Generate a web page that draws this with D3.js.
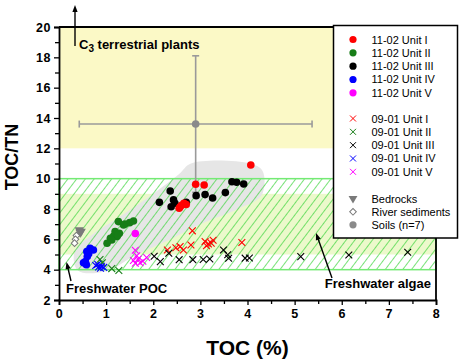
<!DOCTYPE html>
<html>
<head>
<meta charset="utf-8">
<script src="https://cdn.jsdelivr.net/npm/d3@7"></script>
<style>
  body { margin: 0; background: #fff; }
  svg { display: block; font-family: Arial, "Liberation Sans", sans-serif; }
</style>
</head>
<body>
<svg id="chart" width="459" height="363"></svg>
<script>
// 11-02 core (filled circles)
var cirUnitI = [[4.07,10.9],[2.90,9.63],[3.08,9.58],[2.57,8.15],[2.65,8.38],[2.60,8.25],[2.70,8.30],[2.55,8.05]];
var cirUnitII = [[1.26,7.17],[1.40,7.01],[1.50,7.10],[1.58,7.21],[1.37,6.95],[1.19,6.51],[1.28,6.40],[1.23,6.18],
                 [1.16,6.22],[1.09,6.07],[1.12,5.96],[1.02,5.74],[1.25,6.30]];
var cirUnitIII = [[2.36,9.19],[2.13,8.44],[2.43,8.60],[2.46,8.38],[2.38,8.15],[2.70,8.44],[2.91,8.88],[3.10,8.95],
                  [3.26,8.73],[3.53,9.08],[3.67,9.80],[3.77,9.76],[3.92,9.65]];
var cirUnitIV = [[0.66,5.41],[0.73,5.30],[0.59,5.20],[0.63,5.05],[0.60,4.86],[0.56,4.53],[0.58,4.33],[0.52,4.46]];
var cirUnitV = [[1.62,6.38]];

// 09-01 core (crosses)
var crUnitI = [[2.83,6.56],[2.30,5.30],[2.57,5.52],[2.64,5.30],[2.80,5.63],[3.10,5.85],[3.17,5.70],[3.27,5.94],
               [3.13,5.58],[3.23,5.75],[3.88,5.79],[2.48,5.45]];
var crUnitII = [[0.87,4.67],[0.92,4.45],[1.12,4.07],[1.27,3.95]];
var crUnitIII = [[2.02,4.88],[2.15,4.53],[2.33,5.08],[2.55,4.66],[2.84,4.66],[3.06,4.67],[3.20,4.70],[3.49,5.30],
                 [3.58,4.98],[3.60,4.75],[3.95,4.76],[4.04,4.77],[5.13,4.86],[6.15,4.97],[7.40,5.15]];
var crUnitIV = [[0.78,4.28],[0.84,4.18],[0.90,4.22],[0.95,4.15],[0.82,4.35],[0.88,4.10]];
var crUnitV = [[1.62,5.28],[1.65,4.92],[1.58,4.60],[1.72,4.46],[1.62,4.42],[1.86,4.80],[1.78,4.55],[1.68,4.70]];

// end members
var bedrocks = [[0.43,6.62],[0.47,6.52],[0.45,6.45]];
var riverSed = [[0.37,6.25],[0.35,6.00],[0.33,5.75]];
var soils = [2.9, 13.6];
var soilsXerr = [0.43, 5.37];
var soilsYerr = [9.1, 18.1];

// gray envelope around core samples
var envelope = [[0.40,3.95],[1.00,3.90],[1.60,4.90],[2.30,5.90],[3.00,7.00],[3.80,8.00],[4.30,8.90],[4.32,10.5],
                [4.05,11.0],[2.80,11.0],[2.55,10.3],[2.00,9.0],[1.30,7.5],[0.70,6.3],[0.33,5.2]];

var xTicks = [0,1,2,3,4,5,6,7,8];
var yTicks = [2,4,6,8,10,12,14,16,18,20];

var legendCircles = [["11-02 Unit I","#ff0000"],["11-02 Unit II","#177d17"],["11-02 Unit III","#000000"],
                     ["11-02 Unit IV","#0000ff"],["11-02 Unit V","#ff00ff"]];
var legendCrosses = [["09-01 Unit I","#ff0000"],["09-01 Unit II","#177d17"],["09-01 Unit III","#000000"],
                     ["09-01 Unit IV","#0000ff"],["09-01 Unit V","#ff00ff"]];

var margin = { top: 27, right: 23, bottom: 63, left: 59 },
    width = 459 - margin.left - margin.right,
    height = 363 - margin.top - margin.bottom;

var svg = d3.select("#chart");

var defs = svg.append("defs");
defs.append("pattern")
  .attr("id", "hatch")
  .attr("patternUnits", "userSpaceOnUse")
  .attr("width", 7).attr("height", 7)
  .attr("patternTransform", "rotate(37)")
  .append("line")
  .attr("x1", 0).attr("y1", -1).attr("x2", 0).attr("y2", 8)
  .attr("stroke", "#3fd63f").attr("stroke-width", 1.4);

var g = svg.append("g")
  .attr("transform", "translate(" + margin.left + "," + margin.top + ")");

var x = d3.scaleLinear().domain([0, 8]).range([0, width]);
var y = d3.scaleLinear().domain([2, 20]).range([height, 0]);

// C3 plants field
g.append("rect")
  .attr("x", x(0)).attr("y", y(20))
  .attr("width", x(8) - x(0)).attr("height", y(12) - y(20))
  .attr("fill", "#fbf9c6");

// freshwater algae band
g.append("rect")
  .attr("x", x(0)).attr("y", y(9))
  .attr("width", x(8) - x(0)).attr("height", y(5) - y(9))
  .attr("fill", "#ecf9cb");

g.append("path")
  .datum(envelope)
  .attr("d", d3.line().x(d => x(d[0])).y(d => y(d[1])).curve(d3.curveCatmullRomClosed.alpha(0.5)))
  .attr("fill", "#e6e6e6");

g.append("rect")
  .attr("x", x(0)).attr("y", y(10))
  .attr("width", x(8) - x(0)).attr("height", y(4) - y(10))
  .attr("fill", "url(#hatch)")
  .attr("stroke", "#74ea74").attr("stroke-width", 1.5);

// axes
g.append("g")
  .attr("transform", "translate(0," + height + ")")
  .call(d3.axisBottom(x).tickValues(xTicks).tickSize(5).tickPadding(4));
g.append("g")
  .attr("transform", "translate(0," + height + ")")
  .call(d3.axisBottom(x).tickValues(d3.range(0.5, 8, 1)).tickSize(4).tickFormat(""))
  .select(".domain").remove();

g.append("g")
  .call(d3.axisLeft(y).tickValues(yTicks).tickSize(5).tickPadding(3));
g.append("g")
  .call(d3.axisLeft(y).tickValues(d3.range(3, 20, 2)).tickSize(4).tickFormat(""))
  .select(".domain").remove();

g.selectAll(".tick line").attr("stroke", "#000").attr("stroke-width", 1.3);
g.selectAll(".domain").attr("stroke", "#000").attr("stroke-width", 1.8);
g.selectAll(".tick text")
  .attr("font-size", 12.5).attr("font-weight", "bold")
  .attr("font-family", "Arial, 'Liberation Sans', sans-serif")
  .style("letter-spacing", "0.6px");

// top and right frame
g.append("line").attr("x1", 0).attr("x2", width).attr("y1", 0).attr("y2", 0)
  .attr("stroke", "#000").attr("stroke-width", 1.8);
g.append("line").attr("x1", width).attr("x2", width).attr("y1", 0).attr("y2", height)
  .attr("stroke", "#000").attr("stroke-width", 1.8);

// soils error bars
var errColor = "#9a9a9a";
g.append("line")
  .attr("x1", x(soilsXerr[0])).attr("x2", x(soilsXerr[1]))
  .attr("y1", y(soils[1])).attr("y2", y(soils[1]))
  .attr("stroke", errColor).attr("stroke-width", 1.6);
g.append("line")
  .attr("x1", x(soils[0])).attr("x2", x(soils[0]))
  .attr("y1", y(soilsYerr[0])).attr("y2", y(soilsYerr[1]))
  .attr("stroke", errColor).attr("stroke-width", 1.6);
soilsXerr.forEach(function (v) {
  g.append("line").attr("x1", x(v)).attr("x2", x(v))
    .attr("y1", y(soils[1]) - 3.5).attr("y2", y(soils[1]) + 3.5)
    .attr("stroke", errColor).attr("stroke-width", 1.6);
});
soilsYerr.forEach(function (v) {
  g.append("line").attr("x1", x(soils[0]) - 3.5).attr("x2", x(soils[0]) + 3.5)
    .attr("y1", y(v)).attr("y2", y(v))
    .attr("stroke", errColor).attr("stroke-width", 1.6);
});
g.append("circle").attr("cx", x(soils[0])).attr("cy", y(soils[1])).attr("r", 3.8).attr("fill", "#8a8a8a");

function crossPath(s) {
  return "M" + (-s) + "," + (-s) + "L" + s + "," + s + "M" + (-s) + "," + s + "L" + s + "," + (-s);
}

// end member markers
g.selectAll(".bed").data(bedrocks).enter().append("path")
  .attr("transform", d => "translate(" + x(d[0]) + "," + y(d[1]) + ") rotate(180)")
  .attr("d", d3.symbol().type(d3.symbolTriangle).size(38)())
  .attr("fill", "#7a7a7a");
g.selectAll(".riv").data(riverSed).enter().append("path")
  .attr("transform", d => "translate(" + x(d[0]) + "," + y(d[1]) + ") rotate(45)")
  .attr("d", d3.symbol().type(d3.symbolSquare).size(22)())
  .attr("fill", "#fff").attr("stroke", "#7a7a7a").attr("stroke-width", 1);

// crosses
var crossSets = [[crUnitI,"#ff0000"],[crUnitII,"#177d17"],[crUnitIII,"#000000"],[crUnitIV,"#0000ff"],[crUnitV,"#ff00ff"]];
crossSets.forEach(function (s) {
  g.selectAll(null).data(s[0]).enter().append("path")
    .attr("transform", d => "translate(" + x(d[0]) + "," + y(d[1]) + ")")
    .attr("d", crossPath(3.4))
    .attr("fill", "none").attr("stroke", s[1]).attr("stroke-width", 1.1);
});

// circles
var circleSets = [[cirUnitII,"#177d17"],[cirUnitIV,"#0000ff"],[cirUnitV,"#ff00ff"],[cirUnitIII,"#000000"],[cirUnitI,"#ff0000"]];
circleSets.forEach(function (s) {
  g.selectAll(null).data(s[0]).enter().append("circle")
    .attr("cx", d => x(d[0])).attr("cy", d => y(d[1]))
    .attr("r", 3.8).attr("fill", s[1]);
});

// annotations
var ann = svg.append("g").attr("font-weight", "bold").attr("font-size", 13).attr("fill", "#000");
function arrow(x1, y1, x2, y2) {
  var a = Math.atan2(y2 - y1, x2 - x1), L = 7, w = 2.6;
  svg.append("line").attr("x1", x1).attr("y1", y1)
    .attr("x2", x2 - Math.cos(a) * 4).attr("y2", y2 - Math.sin(a) * 4)
    .attr("stroke", "#000").attr("stroke-width", 1.4);
  var bx = x2 - Math.cos(a) * L, by = y2 - Math.sin(a) * L;
  svg.append("path")
    .attr("d", "M" + x2 + "," + y2 + "L" + (bx - Math.sin(a) * w) + "," + (by + Math.cos(a) * w) +
      "L" + (bx + Math.sin(a) * w) + "," + (by - Math.cos(a) * w) + "Z")
    .attr("fill", "#000");
}
arrow(75, 46, 75, 5);
var c3 = ann.append("text").attr("x", 79).attr("y", 49);
c3.append("tspan").text("C");
c3.append("tspan").attr("font-size", 10).attr("dy", 3).text("3");
c3.append("tspan").attr("dy", -3).text(" terrestrial plants");

arrow(71, 281, 66.5, 262);
ann.append("text").attr("x", 66).attr("y", 293).text("Freshwater POC");
arrow(332, 278, 316, 233);
ann.append("text").attr("x", 431).attr("y", 288).attr("text-anchor", "end").text("Freshwater algae");

// axis titles
svg.append("text")
  .attr("x", margin.left + width / 2).attr("y", 355)
  .attr("text-anchor", "middle").attr("font-weight", "bold").attr("font-size", 21)
  .text("TOC (%)");
svg.append("text")
  .attr("transform", "translate(18,157) rotate(-90)")
  .attr("text-anchor", "middle").attr("font-weight", "bold").attr("font-size", 18)
  .text("TOC/TN");

// legend
var leg = svg.append("g");
leg.append("rect").attr("x", 333.5).attr("y", 25.5).attr("width", 124).attr("height", 212.5)
  .attr("fill", "#fff").attr("stroke", "#000").attr("stroke-width", 1.5);
var mx = 353, tx = 371.5;
legendCircles.forEach(function (d, i) {
  var yy = 39.5 + i * 13.33;
  leg.append("circle").attr("cx", mx).attr("cy", yy).attr("r", 3.6).attr("fill", d[1]);
  leg.append("text").attr("x", tx).attr("y", yy + 4).attr("font-size", 11).text(d[0]);
});
legendCrosses.forEach(function (d, i) {
  var yy = 118.5 + i * 13.33;
  leg.append("path").attr("transform", "translate(" + mx + "," + yy + ")")
    .attr("d", crossPath(3)).attr("stroke", d[1]).attr("stroke-width", 1).attr("fill", "none");
  leg.append("text").attr("x", tx).attr("y", yy + 4).attr("font-size", 11).text(d[0]);
});
var em = [["Bedrocks", 198.5], ["River sediments", 211.8], ["Soils (n=7)", 224.8]];
leg.append("path").attr("transform", "translate(" + mx + "," + em[0][1] + ") rotate(180)")
  .attr("d", d3.symbol().type(d3.symbolTriangle).size(34)()).attr("fill", "#7a7a7a");
leg.append("path").attr("transform", "translate(" + mx + "," + em[1][1] + ") rotate(45)")
  .attr("d", d3.symbol().type(d3.symbolSquare).size(22)())
  .attr("fill", "#fff").attr("stroke", "#7a7a7a").attr("stroke-width", 1);
leg.append("circle").attr("cx", mx).attr("cy", em[2][1]).attr("r", 3.6).attr("fill", "#8a8a8a");
em.forEach(function (d) {
  leg.append("text").attr("x", tx).attr("y", d[1] + 4).attr("font-size", 11).text(d[0]);
});
</script>
</body>
</html>
